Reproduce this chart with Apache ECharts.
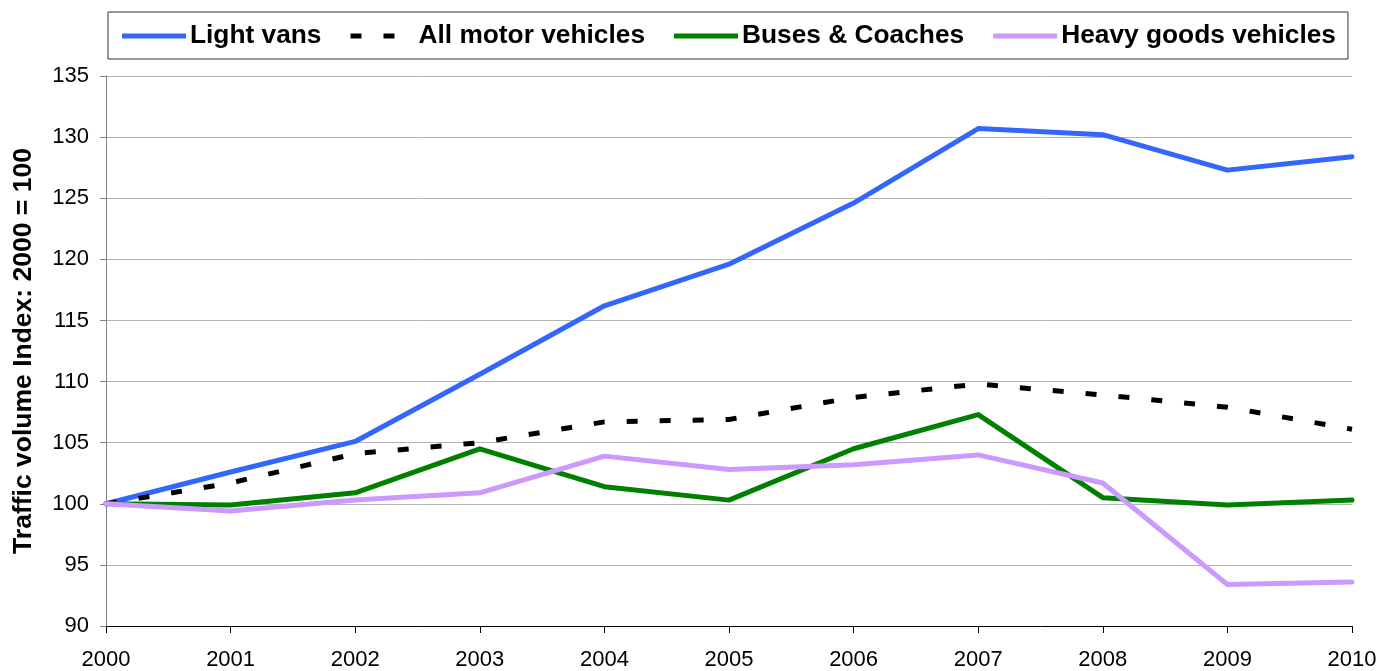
<!DOCTYPE html>
<html>
<head>
<meta charset="utf-8">
<title>Traffic volume index by vehicle type, 2000-2010</title>
<script src="https://cdn.jsdelivr.net/npm/echarts@6/dist/echarts.min.js"></script>
<style>
  html, body { margin: 0; padding: 0; background: #ffffff; }
  #chart { width: 1381px; height: 671px; }
</style>
</head>
<body>
<div id="chart"></div>
<script>
// Years on the horizontal axis
var years = ['2000', '2001', '2002', '2003', '2004', '2005', '2006', '2007', '2008', '2009', '2010'];

// Traffic volume index (2000 = 100) per vehicle type
var lightVans = [100, 102.6, 105.1, 110.6, 116.2, 119.6, 124.6, 130.7, 130.2, 127.3, 128.4];
var allMotorVehicles = [100, 101.7, 104.1, 105.0, 106.7, 106.9, 108.7, 109.8, 108.9, 107.9, 106.1];
var busesCoaches = [100, 99.9, 100.9, 104.5, 101.4, 100.3, 104.5, 107.3, 100.5, 99.9, 100.3];
var heavyGoods = [100, 99.4, 100.3, 100.9, 103.9, 102.8, 103.2, 104.0, 101.7, 93.4, 93.6];

// Value axis range
var yMin = 90, yMax = 135, yStep = 5;

var FONT = '"Liberation Sans", Arial, Helvetica, sans-serif';

// Legend keys: a thick solid bar, and two short dashes for the dotted series
var SOLID_KEY = 'path://M0,0H64V5H0Z';
var DASHED_KEY = 'path://M0,0H11V5H0Z M33,0H44V5H33Z M63.99,0H64V5H63.99Z';

var chart = echarts.init(document.getElementById('chart'), null, { renderer: 'canvas' });

function lineSeries(name, data, color, dashed) {
  return {
    name: name,
    type: 'line',
    data: data,
    symbol: 'none',
    smooth: false,
    animation: false,
    lineStyle: {
      color: color,
      width: 5,
      type: dashed ? [11, 22] : 'solid',
      cap: dashed ? 'butt' : 'round',
      join: 'round'
    },
    itemStyle: { color: color },
    emphasis: { disabled: true }
  };
}

chart.setOption({
  animation: false,
  backgroundColor: '#ffffff',
  textStyle: { fontFamily: FONT },
  grid: { left: 106, right: 29, top: 76, bottom: 43, containLabel: false },
  legend: {
    left: 108,
    top: 12,
    padding: [11, 12, 10, 14],
    itemGap: 29,
    itemWidth: 64,
    itemHeight: 5,
    borderColor: '#333333',
    borderWidth: 1,
    textStyle: { fontFamily: FONT, fontSize: 26.3, fontWeight: 'bold', color: '#000000', padding: [0, 0, 0, -1] },
    data: [
      { name: 'Light vans', icon: SOLID_KEY, itemStyle: { color: '#3366ff', borderWidth: 0 } },
      { name: 'All motor vehicles', icon: DASHED_KEY, itemStyle: { color: '#000000', borderWidth: 0 } },
      { name: 'Buses & Coaches', icon: SOLID_KEY, itemStyle: { color: '#008000', borderWidth: 0 } },
      { name: 'Heavy goods vehicles', icon: SOLID_KEY, itemStyle: { color: '#cc99ff', borderWidth: 0 } }
    ]
  },
  xAxis: {
    type: 'category',
    data: years,
    boundaryGap: false,
    axisLine: { show: true, lineStyle: { color: '#000000', width: 1 } },
    axisTick: { show: true, length: 7, alignWithLabel: true, lineStyle: { color: '#000000' } },
    axisLabel: { fontFamily: FONT, fontSize: 22, color: '#000000', margin: 23, interval: 0 },
    splitLine: { show: false }
  },
  yAxis: {
    type: 'value',
    min: yMin,
    max: yMax,
    interval: yStep,
    name: 'Traffic volume Index: 2000 = 100',
    nameLocation: 'middle',
    nameGap: 69,
    nameTextStyle: { fontFamily: FONT, fontSize: 26.5, fontWeight: 'bold', color: '#000000' },
    axisLine: { show: true, lineStyle: { color: '#808080', width: 1 } },
    axisTick: { show: true, length: 6, lineStyle: { color: '#808080' } },
    axisLabel: { fontFamily: FONT, fontSize: 22, color: '#000000', margin: 17 },
    splitLine: { show: true, lineStyle: { color: '#b4b4b4', width: 1 } }
  },
  series: [
    lineSeries('Light vans', lightVans, '#3366ff', false),
    lineSeries('All motor vehicles', allMotorVehicles, '#000000', true),
    lineSeries('Buses & Coaches', busesCoaches, '#008000', false),
    lineSeries('Heavy goods vehicles', heavyGoods, '#cc99ff', false)
  ]
});
</script>
</body>
</html>
